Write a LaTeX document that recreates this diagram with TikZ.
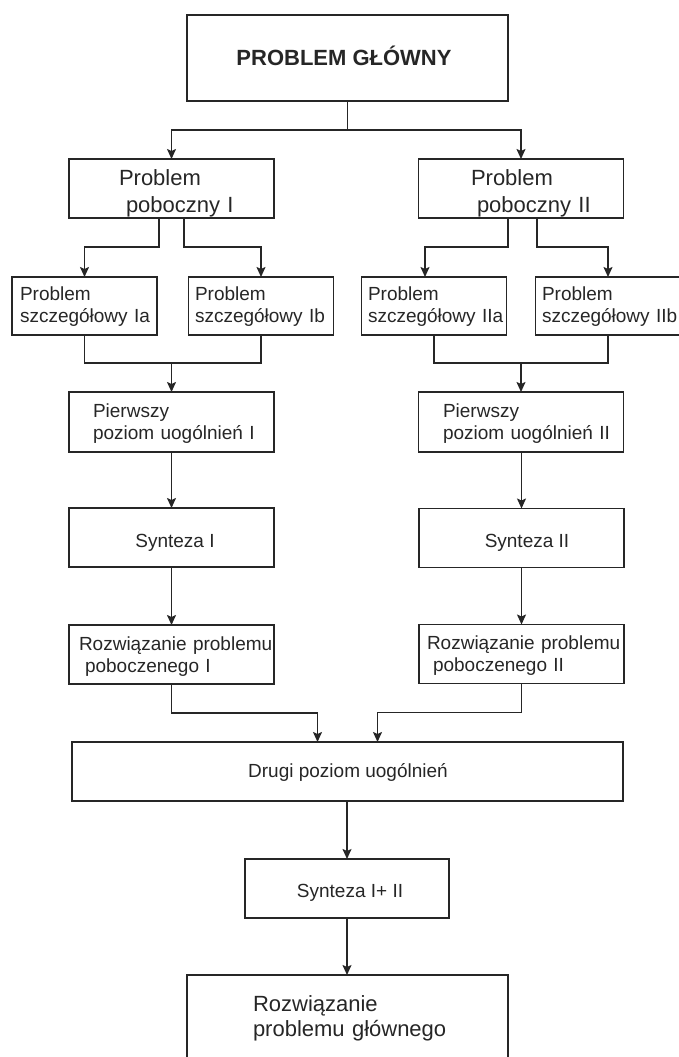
\documentclass[tikz,border=0pt]{standalone}
\usepackage{fontspec}
\setmainfont{Liberation Sans}
\usetikzlibrary{arrows.meta,positioning}

\begin{document}
\begin{tikzpicture}[
    x=1pt, y=-1pt,
    every node/.style={inner sep=0pt, outer sep=0pt, text=black!85},
    box/.style={draw=black!85, line width=1.7pt, minimum height=59pt},
    wide/.style={minimum width=205pt},
    sub/.style={minimum width=145pt, minimum height=58pt},
    txt/.style={anchor=base west, align=left, text width=220pt},
    big/.style={font=\fontsize{22}{27}\selectfont},
    mid/.style={font=\fontsize{19}{22.5}\selectfont},
    arrow/.style={-{Stealth[length=10pt,width=9pt,inset=2pt]}, line width=1.6pt, draw=black!85},
    line/.style={line width=1.6pt, draw=black!85},
]
\useasboundingbox (0,0) rectangle (678,1057);

% Main problem
\node[box, minimum width=321pt, minimum height=86pt] (top) at (347.5,58) {};
\node[font=\bfseries\fontsize{22}{26}\selectfont, anchor=base] (top-t) at (344,66) {PROBLEM GŁÓWNY};

% Side problems
\node[box, wide] (p1) at (171.5,188.5) {};
\node[box, wide] (p2) at (521,188.5) {};
\node[txt, big] (p1-t) at (119,185) {Problem\\\hspace*{7pt}poboczny I};
\node[txt, big] (p2-t) at (471,185) {Problem\\\hspace*{6pt}poboczny II};

% Detailed problems
\node[box, sub] (ia) at (84.5,306) {};
\node[box, sub] (ib) at (261,306) {};
\node[box, sub] (iia) at (434,306) {};
\node[box, sub] (iib) at (608,306) {};
\node[txt, mid] (ia-t) at (20,300) {Problem\\szczegółowy Ia};
\node[txt, mid] (ib-t) at (195,300) {Problem\\szczegółowy Ib};
\node[txt, mid] (iia-t) at (368,300) {Problem\\szczegółowy IIa};
\node[txt, mid] (iib-t) at (542,300) {Problem\\szczegółowy IIb};

% First level of generalisation
\node[box, wide, minimum height=60pt] (g1) at (171.5,422) {};
\node[box, wide, minimum height=60pt] (g2) at (521,422) {};
\node[txt, mid] (g1-t) at (93,417) {Pierwszy\\poziom uogólnień I};
\node[txt, mid] (g2-t) at (443,417) {Pierwszy\\poziom uogólnień II};

% Synthesis
\node[box, wide] (s1) at (171.5,537.5) {};
\node[box, wide] (s2) at (521.5,538) {};
\node[mid, anchor=base] (s1-t) at (175,547) {Synteza I};
\node[mid, anchor=base] (s2-t) at (527,547) {Synteza II};

% Side solutions
\node[box, wide] (r1) at (171.5,654.5) {};
\node[box, wide] (r2) at (521.5,654) {};
\node[txt, mid] (r1-t) at (79,650) {Rozwiązanie problemu\\\hspace*{6pt}poboczenego I};
\node[txt, mid] (r2-t) at (427,649) {Rozwiązanie problemu\\\hspace*{6pt}poboczenego II};

% Second level, final synthesis and solution
\node[box, minimum width=551pt] (dg) at (347.5,771.5) {};
\node[mid, anchor=base] (dg-t) at (348,777) {Drugi poziom uogólnień};
\node[box, minimum width=204pt] (syn) at (347,888.5) {};
\node[mid, anchor=base] (syn-t) at (350,897) {Synteza I+ II};
\node[box, minimum width=321pt, minimum height=87pt] (fin) at (347.5,1018.5) {};
\node[txt, big, font=\fontsize{22}{25}\selectfont] (fin-t) at (253,1011) {Rozwiązanie\\problemu głównego};

% Connectors
\draw[arrow] (top.south) -- ++(0,29) -| (p1.north);
\draw[arrow] (top.south) -- ++(0,29) -| (p2.north);
\draw[arrow] ([xshift=-12.5pt]p1.south) -- ++(0,29) -| (ia.north);
\draw[arrow] ([xshift=12.5pt]p1.south) -- ++(0,29) -| (ib.north);
\draw[arrow] ([xshift=-13pt]p2.south) -- ++(0,29) -| ([xshift=-9pt]iia.north);
\draw[arrow] ([xshift=16pt]p2.south) -- ++(0,29) -| (iib.north);
\draw[line] (ia.south) -- ++(0,28) coordinate (j1) -| (ib.south);
\draw[arrow] (j1 -| g1.north) -- (g1.north);
\draw[line] (iia.south) -- ++(0,28) coordinate (j2) -| (iib.south);
\draw[arrow] (j2 -| g2.north) -- (g2.north);
\draw[arrow] (g1.south) -- (s1.north);
\draw[arrow] (s1.south) -- (r1.north);
\draw[arrow] (g2.south -| s2.north) -- (s2.north);
\draw[arrow] (s2.south) -- (r2.north);
\draw[arrow] (r1.south) -- ++(0,29) -| ([xshift=-30pt]dg.north);
\draw[arrow] (r2.south) -- ++(0,29) -| ([xshift=30pt]dg.north);
\draw[arrow] (dg.south -| syn.north) -- (syn.north);
\draw[arrow] (syn.south) -- (syn.south |- fin.north);

\end{tikzpicture}
\end{document}
